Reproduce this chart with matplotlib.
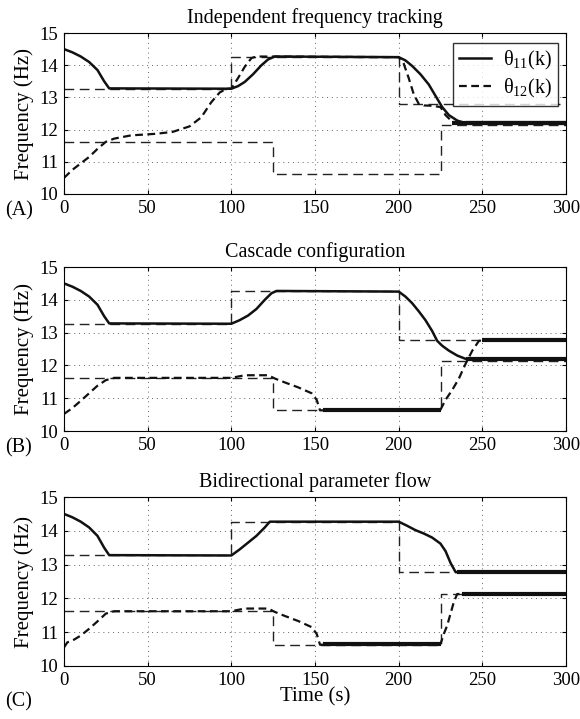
import matplotlib.pyplot as plt
import numpy as np

plt.rcParams['font.family'] = ['Liberation Serif', 'DejaVu Serif']
plt.rcParams['mathtext.fontset'] = 'custom'
plt.rcParams['mathtext.rm'] = 'Liberation Serif'
plt.rcParams['mathtext.it'] = 'Liberation Serif:italic'

# reference (target) frequencies, piecewise constant
ref1_t = [0, 100, 100, 200, 200, 300]
ref1_f = [13.27, 13.27, 14.27, 14.27, 12.78, 12.78]
ref2_t = [0, 125, 125, 225, 225, 300]
ref2_f = [11.62, 11.62, 10.63, 10.63, 12.13, 12.13]

# panel A: independent tracking
a11_t = [0, 5, 10, 15, 20, 24, 27, 100, 104, 108, 113, 118, 122, 126, 200, 204, 208, 213, 218, 222, 226, 230, 235, 240, 300]
a11_f = [14.5, 14.4, 14.27, 14.1, 13.85, 13.5, 13.28, 13.27, 13.35, 13.48, 13.72, 14.0, 14.18, 14.27, 14.25, 14.15, 13.98, 13.72, 13.4, 13.05, 12.7, 12.45, 12.28, 12.2, 12.2]
a12_t = [0, 5, 10, 15, 20, 25, 30, 40, 55, 65, 75, 82, 88, 93, 97, 100, 104, 108, 112, 115, 200, 203, 206, 209, 212, 215, 220, 225, 228, 232, 236, 300]
a12_f = [10.5, 10.75, 10.95, 11.15, 11.4, 11.62, 11.72, 11.82, 11.87, 11.93, 12.1, 12.38, 12.85, 13.15, 13.27, 13.27, 13.6, 13.95, 14.22, 14.27, 14.25, 14.05, 13.6, 13.1, 12.8, 12.75, 12.74, 12.7, 12.45, 12.25, 12.2, 12.2]

# panel B: cascade
b11_t = [0, 5, 10, 15, 20, 24, 27, 100, 105, 110, 115, 120, 124, 127, 200, 204, 208, 212, 216, 220, 223, 226, 230, 235, 240, 300]
b11_f = [14.5, 14.4, 14.27, 14.1, 13.85, 13.5, 13.28, 13.27, 13.38, 13.52, 13.72, 14.0, 14.2, 14.27, 14.25, 14.1, 13.9, 13.65, 13.38, 13.05, 12.75, 12.6, 12.45, 12.3, 12.2, 12.2]
b12_t = [0, 5, 10, 15, 20, 25, 30, 100, 108, 122, 126, 132, 140, 148, 151, 153, 225, 228, 232, 236, 240, 244, 248, 300]
b12_f = [10.52, 10.7, 10.92, 11.15, 11.38, 11.55, 11.62, 11.62, 11.7, 11.7, 11.6, 11.48, 11.33, 11.15, 10.95, 10.63, 10.65, 10.95, 11.25, 11.6, 12.05, 12.45, 12.75, 12.78]

# panel C: bidirectional
c11_t = [0, 5, 10, 15, 20, 24, 27, 100, 105, 110, 115, 120, 123, 200, 205, 210, 215, 220, 225, 228, 231, 234, 300]
c11_f = [14.5, 14.4, 14.27, 14.1, 13.85, 13.5, 13.28, 13.27, 13.45, 13.65, 13.85, 14.1, 14.27, 14.27, 14.15, 14.02, 13.92, 13.8, 13.62, 13.4, 13.05, 12.78, 12.78]
c12_t = [0, 2, 6, 10, 15, 20, 25, 30, 100, 108, 122, 126, 132, 140, 148, 151, 153, 225, 227, 229, 231, 233, 235, 300]
c12_f = [10.55, 10.7, 10.78, 10.9, 11.1, 11.32, 11.55, 11.62, 11.62, 11.7, 11.7, 11.6, 11.48, 11.33, 11.15, 10.95, 10.63, 10.65, 10.95, 11.2, 11.55, 11.9, 12.13, 12.13]

# steady-state stretches where the estimates are visibly noisy: (start, end, level)
a_noisy = [(232, 300, 12.2), (240, 300, 12.22)]
b_noisy = [(240, 300, 12.2), (155, 225, 10.64), (250, 300, 12.78)]
c_noisy = [(235, 300, 12.78), (155, 225, 10.64), (238, 300, 12.13)]

titles = ['Independent frequency tracking', 'Cascade configuration', 'Bidirectional parameter flow']
tags = ['(A)', '(B)', '(C)']
est = [(a11_t, a11_f, a12_t, a12_f), (b11_t, b11_f, b12_t, b12_f), (c11_t, c11_f, c12_t, c12_f)]
noisy = [a_noisy, b_noisy, c_noisy]

W, H = 580, 719
# axes boxes in pixels: top, bottom
tops = [33, 267, 497]
bottoms = [194, 431, 666]
tag_offsets = [17, 17, 36]
x0, x1 = 64, 566

fig = plt.figure(figsize=(5.8, 7.19), dpi=100)

for i in range(3):
    ax = fig.add_axes([x0 / W, 1 - bottoms[i] / H, (x1 - x0) / W, (bottoms[i] - tops[i]) / H])
    t11, f11, t12, f12 = est[i]
    ax.plot(ref1_t, ref1_f, color='#222222', lw=1.0, dashes=(7, 4))
    ax.plot(ref2_t, ref2_f, color='#222222', lw=1.0, dashes=(7, 4))
    h1, = ax.plot(t11, f11, color='#111111', lw=1.8, label=r'$\mathrm{\theta_{11}(k)}$')
    h2, = ax.plot(t12, f12, color='#111111', lw=1.6, dashes=(3.5, 2), label=r'$\mathrm{\theta_{12}(k)}$')
    for (ts, te, lev) in noisy[i]:
        ax.plot([ts, te], [lev, lev], color='#111111', lw=3.0, solid_capstyle='butt')
    ax.set_xlim(0, 300)
    ax.set_ylim(10, 15)
    ax.set_xticks(np.arange(0, 301, 50))
    ax.set_yticks(np.arange(10, 16, 1))
    ax.tick_params(direction='in', labelsize=13.5, length=3, top=True, right=True, pad=4)
    ax.grid(True, linestyle=(0, (1, 4)), color='#666666', lw=0.7)
    ax.set_ylabel('Frequency (Hz)', fontsize=15, labelpad=4)
    ax.set_title(titles[i], fontsize=14.5, pad=7)
    fig.text(0.008, 1 - (bottoms[i] + tag_offsets[i]) / H, tags[i], fontsize=14.5, va='center')
    if i == 0:
        leg = ax.legend(handles=[h1, h2], loc='upper right', fontsize=14.5, frameon=True,
                        fancybox=False, edgecolor='black', handlelength=1.6, handletextpad=0.6,
                        borderpad=0.3, labelspacing=0.25, borderaxespad=0,
                        bbox_to_anchor=(0.984, 0.94))
        leg.get_frame().set_linewidth(1.0)
    if i == 2:
        ax.set_xlabel('Time (s)', fontsize=15, labelpad=-1)
    for s in ax.spines.values():
        s.set_linewidth(0.8)

fig.savefig('out.png', dpi=100)
